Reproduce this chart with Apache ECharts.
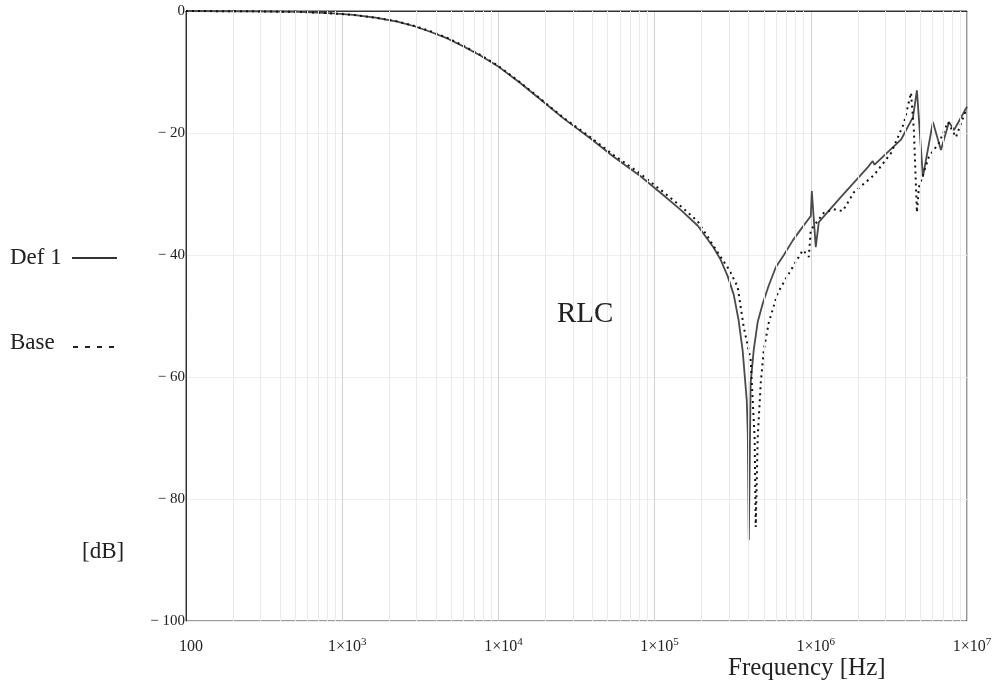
<!DOCTYPE html>
<html>
<head>
<meta charset="utf-8">
<script src="https://cdn.jsdelivr.net/npm/echarts@6/dist/echarts.min.js"></script>
<style>
  html, body { margin: 0; padding: 0; background: #fff; }
  #chart { width: 997px; height: 687px; }
</style>
</head>
<body>
<div id="chart"></div>
<script>
// Frequency [Hz] / magnitude [dB]
const def1Freq = [100, 257, 539, 875, 1180, 1630, 2250, 2900, 3660, 4710, 5970, 7670, 9860, 13800, 18600,
    26100, 38900, 54600, 81300, 114000, 147000, 189000, 239000, 265000, 294000,
    321000, 345000, 366000, 389000, 395000, 401000, 412000, 431000, 457000, 492000, 538000, 597000, 672000,
    767000, 863000, 1000000, 1015000, 1076000, 1125000, 1556000, 2320000, 2490000, 2560000, 3780000,
    4510000, 4780000, 5220000, 6050000, 6810000, 7670000, 8260000, 10000000];
const def1Db = [0, -0.05, -0.15, -0.4, -0.65, -1.1, -1.75, -2.5, -3.4, -4.5, -5.8, -7.3, -9.0, -11.8, -14.5,
    -17.6, -20.9, -23.9, -27.1, -30.2, -32.6, -35.2, -38.8, -40.8, -43.5,
    -46.5, -50.7, -55.6, -63.8, -69.2, -86.7, -61, -55.6, -51, -48, -45, -42, -40,
    -37.6, -35.8, -33.6, -29.5, -38.7, -34.6, -30.5, -25.6, -24.6, -25.2, -21.1,
    -17.4, -13, -27.2, -18.2, -22.8, -18.2, -19.5, -15.7];

const baseFreq = [100, 257, 539, 875, 1180, 1630, 2250, 2900, 3660, 4710, 5970, 7670, 9860, 13800, 18600,
    26100, 38900, 54600, 81300, 114000, 147000, 189000, 254000, 300000, 340000, 372000,
    412000, 437000, 444000, 457000, 478000, 500000, 538000, 614000, 745000, 889000, 971000, 1000000,
    1210000, 1400000, 1600000, 1890000, 2540000, 3260000, 3950000, 4380000, 4570000, 4780000, 4920000,
    5700000, 6620000, 7550000, 8490000, 9860000];
const baseDb = [0, -0.05, -0.15, -0.4, -0.65, -1.1, -1.7, -2.45, -3.3, -4.4, -5.7, -7.2, -8.9, -11.7, -14.4,
    -17.5, -20.7, -23.6, -26.7, -29.7, -32, -34.5, -39.6, -42.4, -45.2, -51.8,
    -57.2, -70, -84.6, -70, -61, -55.6, -51.1, -46.2, -42.5, -39.2, -40.3, -35.9,
    -33.1, -32.5, -32.8, -29.7, -26.9, -23.3, -18.4, -13.4, -19.5, -33, -28.9,
    -23.9, -21.6, -18.2, -20.7, -16.2];

// minor log grid: 2..9 in every decade
const minorGrid = [];
for (let d = 2; d < 7; d++) {
    for (let k = 2; k <= 9; k++) minorGrid.push(k * Math.pow(10, d));
}

const serif = "'Liberation Serif', 'DejaVu Serif', serif";
const sup = { 3: '3', 4: '4', 5: '5', 6: '6', 7: '7' };

const chart = echarts.init(document.getElementById('chart'));
chart.setOption({
    animation: false,
    backgroundColor: '#fff',
    grid: { left: 186, right: 30, top: 11, bottom: 66, show: true, borderColor: '#333', borderWidth: 1 },
    xAxis: {
        type: 'log',
        logBase: 10,
        min: 100,
        max: 10000000,
        axisLine: { lineStyle: { color: '#333' } },
        axisTick: { show: false },
        splitLine: { show: true, lineStyle: { color: '#d2d2d2', width: 1 } },
        axisLabel: {
            margin: 17,
            color: '#222',
            showMinLabel: true,
            showMaxLabel: true,
            formatter: v => {
                const e = Math.round(Math.log10(v));
                return e === 2 ? '{b|100}' : '{b|1×10}{s|' + sup[e] + '}';
            },
            rich: {
                b: { fontFamily: serif, fontSize: 16, color: '#222', lineHeight: 18, padding: [0, 0, 0, 10] },
                s: { fontFamily: serif, fontSize: 11, color: '#222', padding: [0, 0, 9, 0], lineHeight: 18 }
            }
        }
    },
    yAxis: {
        type: 'value',
        min: -100,
        max: 0,
        interval: 20,
        axisLine: { show: true, lineStyle: { color: '#333' } },
        axisTick: { show: false },
        splitLine: { show: true, lineStyle: { color: '#eeeeee' } },
        axisLabel: {
            margin: 1,
            fontFamily: serif,
            fontSize: 15,
            color: '#222',
            formatter: v => (v === 0 ? '0' : '\u2212 ' + Math.abs(v))
        }
    },
    series: [
        {
            name: 'grid',
            type: 'line',
            data: [],
            silent: true,
            z: 1,
            markLine: {
                silent: true,
                symbol: 'none',
                label: { show: false },
                lineStyle: { color: '#eaeaea', width: 1, type: 'solid' },
                data: minorGrid.map(v => ({ xAxis: v }))
            }
        },
        {
            name: 'Def 1',
            type: 'line',
            showSymbol: false,
            data: def1Freq.map((f, i) => [f, def1Db[i]]),
            lineStyle: { color: '#4a4a4a', width: 1.8 },
            z: 3
        },
        {
            name: 'Base',
            type: 'line',
            showSymbol: false,
            data: baseFreq.map((f, i) => [f, baseDb[i]]),
            lineStyle: { color: '#111', width: 2, type: [2, 4] },
            z: 4
        }
    ],
    graphic: [
        { type: 'text', z: 100, left: 10, top: 246, style: { text: 'Def 1', font: '23px ' + serif, fill: '#222' } },
        { type: 'line', z: 100, shape: { x1: 72, y1: 258, x2: 117, y2: 258 }, style: { stroke: '#333', lineWidth: 2 } },
        { type: 'text', z: 100, left: 10, top: 331, style: { text: 'Base', font: '23px ' + serif, fill: '#222' } },
        { type: 'line', z: 100, shape: { x1: 73, y1: 347, x2: 117, y2: 347 }, style: { stroke: '#222', lineWidth: 2, lineDash: [5, 7] } },
        { type: 'text', z: 100, left: 82, top: 540, style: { text: '[dB]', font: '23px ' + serif, fill: '#222' } },
        { type: 'text', z: 100, left: 557, top: 300, style: { text: 'RLC', font: '29px ' + serif, fill: '#222' } },
        { type: 'text', z: 100, left: 728, top: 656, style: { text: 'Frequency [Hz]', font: '25px ' + serif, fill: '#222' } }
    ]
});
</script>
</body>
</html>
